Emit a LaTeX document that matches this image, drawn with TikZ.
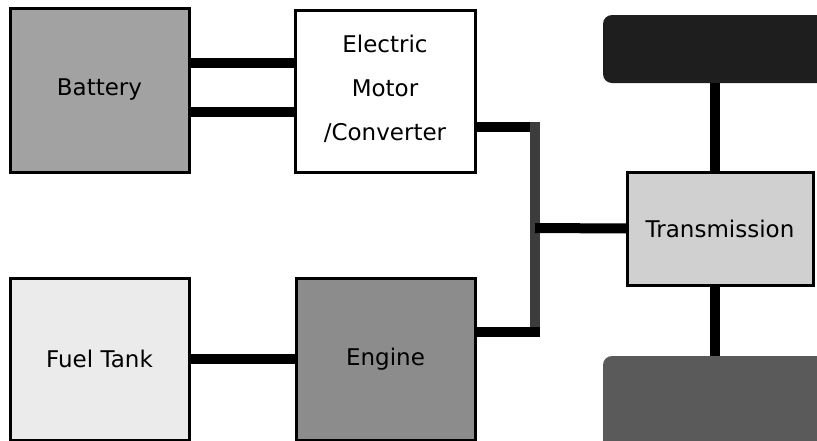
\documentclass[tikz,border=0pt]{standalone}
\usepackage{fontspec}
\setmainfont{DejaVu Sans}
\usetikzlibrary{calc}
\definecolor{batfill}{HTML}{A2A2A2}
\definecolor{engfill}{HTML}{8C8C8C}
\definecolor{fuelfill}{HTML}{EBEBEB}
\definecolor{trfill}{HTML}{D0D0D0}
\definecolor{topfill}{HTML}{1E1E1E}
\definecolor{botfill}{HTML}{5A5A5A}
\definecolor{midbar}{HTML}{3C3C3C}
\tikzset{
  blockbox/.style={draw=black, line width=3pt, inner sep=0pt, outer sep=0pt,
    font=\fontsize{23}{27}\selectfont, align=center},
  conn/.style={line width=10pt, draw=black},
  roundbox/.style={draw=none, rounded corners=9pt, inner sep=0pt, outer sep=0pt}
}
\begin{document}
\begin{tikzpicture}[x=1pt,y=-1pt]
\useasboundingbox (0,0) rectangle (817,440);
\clip (0,0) rectangle (817,440);
\fill[white] (0,0) rectangle (817,440);
% nodes
\node[blockbox, fill=batfill, minimum width=179pt, minimum height=164pt] (bat) at (99.5,90) {Battery};
\node[blockbox, fill=white, minimum width=180pt, minimum height=162pt] (mot) at (385,91)
  {\begin{tabular}{c}Electric\\[17pt]Motor\\[17pt]/Converter\end{tabular}};
\node[blockbox, fill=fuelfill, minimum width=179pt, minimum height=162pt] (fuel) at (99.5,359) {Fuel Tank};
\node[blockbox, fill=engfill, minimum width=179pt, minimum height=162pt] (eng) at (385.5,359) {Engine};
\node[blockbox, fill=trfill, minimum width=186pt, minimum height=113pt] (tr) at (720,228.5) {Transmission};
\node[roundbox, fill=topfill, minimum width=230pt, minimum height=68pt] (top) at (718,49) {};
\node[roundbox, fill=botfill, minimum width=230pt, minimum height=100pt] (bot) at (718,406) {};
\coordinate (j1) at (535,127);
\coordinate (j2) at (535,332);
\coordinate (j3) at (535,228);
% connectors
\draw[conn] ($(bat.east)+(0,-27)$) -- ($(mot.west)+(0,-28)$);
\draw[conn] ($(bat.east)+(0,22)$) -- ($(mot.west)+(0,21)$);
\draw[conn] ($(mot.east)+(0,36)$) -- ($(j1)+(5,0)$);
\draw[conn, draw=midbar] ($(j1)+(0,-5)$) -- ($(j2)+(0,5)$);
\draw[conn] ($(eng.east)+(0,-27)$) -- ($(j2)+(5,0)$);
\draw[conn] (j3) -- (tr.west);
\draw[conn] (top.south -| 715,0) -- (tr.north -| 715,0);
\draw[conn] (tr.south -| 715,0) -- (bot.north -| 715,0);
\draw[conn] (fuel.east) -- (eng.west);
\end{tikzpicture}
\end{document}
